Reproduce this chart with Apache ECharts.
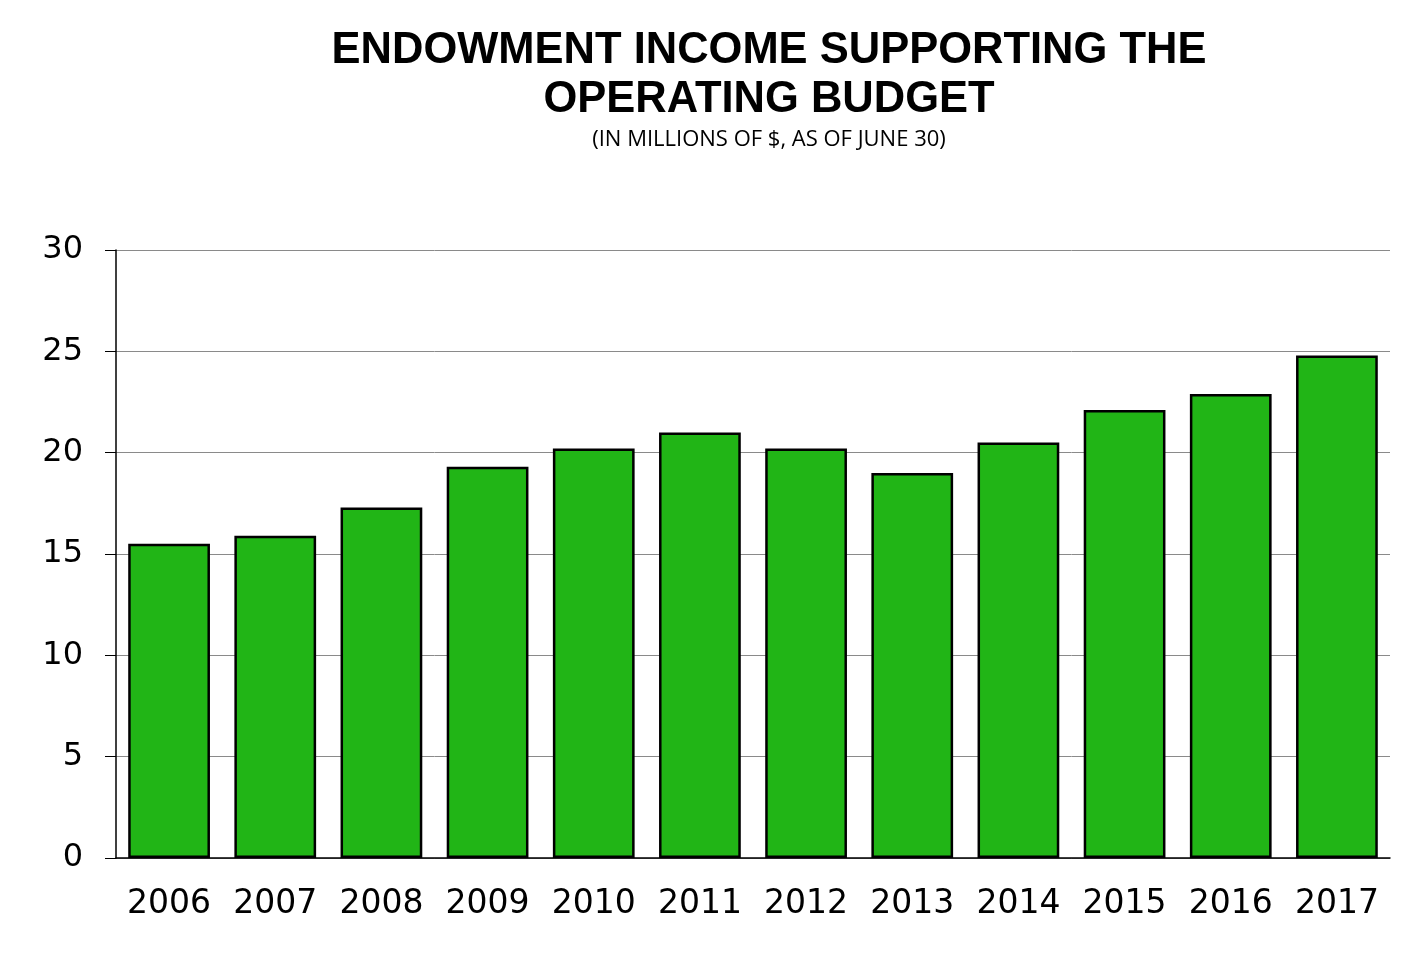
<!DOCTYPE html>
<html>
<head>
<meta charset="utf-8">
<script src="https://cdn.jsdelivr.net/npm/echarts@6/dist/echarts.min.js"></script>
<style>
html,body{margin:0;padding:0;background:#fff;}
#c{width:1406px;height:956px;}
</style>
</head>
<body>
<div id="c"></div>
<script>
const categories = ['2006','2007','2008','2009','2010','2011','2012','2013','2014','2015','2016','2017'];
const values = [15.5, 15.9, 17.3, 19.3, 20.2, 21.0, 20.2, 19.0, 20.5, 22.1, 22.9, 24.8];
const titleText = 'ENDOWMENT INCOME SUPPORTING THE\nOPERATING BUDGET';
const subtitleText = '(IN MILLIONS OF $, AS OF JUNE 30)';

const chart = echarts.init(document.getElementById('c'), null, {renderer:'canvas'});
chart.setOption({
  animation: false,
  backgroundColor: '#ffffff',
  title: [{
    text: titleText,
    left: 764, top: 21, textAlign: 'center',
    textStyle: {fontFamily: 'Liberation Sans', fontWeight: 'bold', fontSize: 43.5, lineHeight: 49, color: '#000'}
  },{
    text: subtitleText,
    left: 764, top: 124, textAlign: 'center',
    textStyle: {fontFamily: 'Open Sans', fontWeight: 'normal', fontSize: 22, color: '#000'}
  }],
  grid: {left: 116, right: 16, top: 250, bottom: 98, containLabel: false},
  xAxis: {
    type: 'category',
    data: categories,
    axisLine: {show: true, lineStyle: {color: '#000', width: 1.5}},
    axisTick: {show: false},
    axisLabel: {interval: 0, hideOverlap: false, fontFamily: 'DejaVu Sans', fontSize: 33, color: '#000', margin: 30}
  },
  yAxis: {
    type: 'value',
    min: 0, max: 30, interval: 5,
    axisLine: {show: true, lineStyle: {color: '#000', width: 1.5}},
    axisTick: {show: true, length: 11, lineStyle: {color: '#000', width: 1}},
    splitLine: {show: true, lineStyle: {color: '#8a8a8a', width: 1}},
    axisLabel: {fontFamily: 'DejaVu Sans', fontSize: 32, color: '#000', margin: 33, padding: [5, 0, 0, 0]}
  },
  series: [{
    type: 'bar',
    data: values,
    barCategoryGap: '23%',
    itemStyle: {color: '#21b516', borderColor: '#000', borderWidth: 2.5}
  }]
});
</script>
</body>
</html>
